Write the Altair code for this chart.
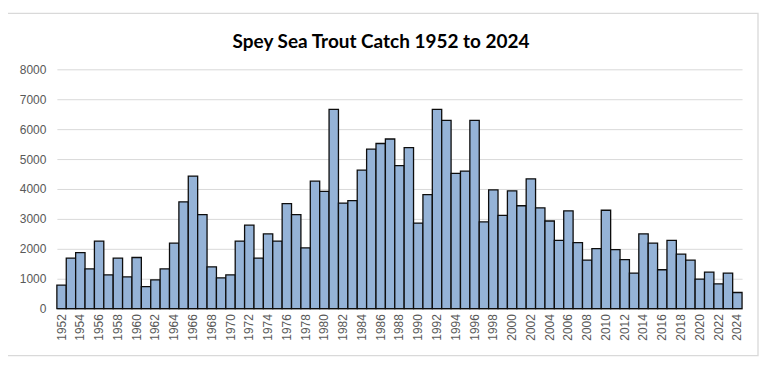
import altair as alt
import pandas as pd

years = list(range(1952, 2025))
catch = [790, 1690, 1870, 1330, 2260, 1130, 1690, 1060, 1710, 740,
         960, 1330, 2190, 3570, 4430, 3140, 1400, 1030, 1130, 2260,
         2790, 1690, 2500, 2260, 3510, 3140, 2030, 4260, 3920, 6660,
         3530, 3610, 4630, 5330, 5520, 5670, 4780, 5380, 2860, 3810,
         6660, 6290, 4520, 4600, 6290, 2900, 3970, 3120, 3940, 3440,
         4340, 3370, 2930, 2280, 3270, 2210, 1620, 2010, 3290, 1970,
         1640, 1190, 2500, 2190, 1300, 2280, 1820, 1620, 990, 1220,
         830, 1190, 540]
y_ticks = [0, 1000, 2000, 3000, 4000, 5000, 6000, 7000, 8000]
title_text = "Spey Sea Trout Catch 1952 to 2024"

df = pd.DataFrame({"year": [str(y) for y in years], "catch": catch})
tdf = pd.DataFrame({"t": [title_text]})

W, H = 687, 240

bars = alt.Chart(df).mark_bar(
    color="#95B3D7", stroke="#0D0D0D", strokeWidth=1.3
).encode(
    x=alt.X("year:O", title=None,
            scale=alt.Scale(paddingInner=0, paddingOuter=0),
            axis=alt.Axis(labelAngle=270, labelFont="Liberation Sans", labelFontSize=12,
                          labelColor="#595959", ticks=False, domainColor="#BFBFBF",
                          labelPadding=5, labelAlign="right", labelBaseline="middle",
                          labelExpr="toNumber(datum.value) % 2 == 0 ? datum.label : ''")),
    y=alt.Y("catch:Q", title=None,
            scale=alt.Scale(domain=[0, 8000]),
            axis=alt.Axis(values=y_ticks, format="d", labelFont="Liberation Sans",
                          labelFontSize=12, labelColor="#595959", ticks=False,
                          domain=False, gridColor="#D9D9D9", gridWidth=1, labelPadding=11)),
)

border = alt.Chart(tdf).mark_rect(
    fill=None, stroke="#D9D9D9", strokeWidth=1.3
).encode(
    x=alt.value(-50), x2=alt.value(703), y=alt.value(-56), y2=alt.value(287)
)

title = alt.Chart(tdf).mark_text(
    font="Lato", fontSize=19, fontWeight="bold", color="#000000",
    align="center", baseline="middle"
).encode(x=alt.value(325), y=alt.value(-27), text="t:N")

chart = alt.layer(border, bars, title).properties(
    width=W, height=H,
    autosize=alt.AutoSizeParams(type="none"),
    padding={"left": 49, "top": 61, "right": 20, "bottom": 50},
).configure_view(stroke=None)

chart.save("out.html", embed_options={"renderer": "svg", "actions": False})
